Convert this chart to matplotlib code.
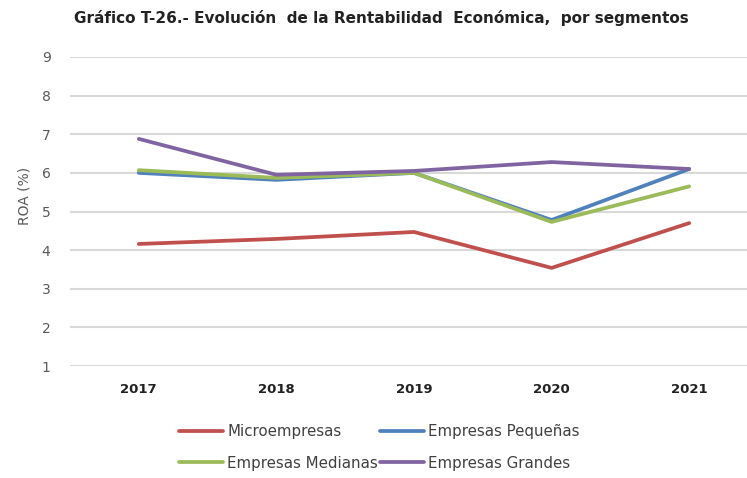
import matplotlib.pyplot as plt
import numpy as np

# Data
years = ['2017', '2018', '2019', '2020', '2021']
micro = [4.16, 4.29, 4.47, 3.54, 4.70]
pequenas = [6.00, 5.82, 6.00, 4.78, 6.10]
medianas = [6.07, 5.87, 6.00, 4.73, 5.65]
grandes = [6.88, 5.95, 6.05, 6.28, 6.10]

series = [
    ('Microempresas', micro, '#C0504D'),
    ('Empresas Pequeñas', pequenas, '#4F81BD'),
    ('Empresas Medianas', medianas, '#9BBB59'),
    ('Empresas Grandes', grandes, '#8064A2'),
]

fig = plt.figure(figsize=(7.47, 4.78), dpi=100)
ax = fig.add_axes([70 / 747, 1 - 366 / 478, 677 / 747, (366 - 57) / 478])

x = np.arange(len(years))
lines = []
for name, vals, color in series:
    ln, = ax.plot(x, vals, color=color, linewidth=2.7, label=name,
                  solid_capstyle='round', clip_on=False, zorder=3)
    lines.append(ln)

ax.set_ylim(1, 9)
ax.set_yticks(range(1, 10))
ax.set_xlim(-0.5, 4.42)
ax.set_xticks(x)
ax.set_xticklabels(years, fontweight='bold', fontsize=9.5, color='#222222')
ax.tick_params(axis='x', length=0, pad=12)
ax.tick_params(axis='y', length=0, pad=14, labelsize=10, labelcolor='#595959')
ax.grid(axis='y', color='#D9D9D9', linewidth=1.5)
ax.set_axisbelow(True)
for s in ax.spines.values():
    s.set_visible(False)

ax.set_ylabel('ROA (%)', fontsize=10, color='#595959')
ax.yaxis.set_label_coords(-0.057, 0.55)

fig.text(0.511, 0.962, 'Gráfico T-26.- Evolución  de la Rentabilidad  Económica,  por segmentos',
         ha='center', va='center', fontsize=11, fontweight='bold', color='#222222')

# legend is filled column by column, so reorder to read row by row
order = [0, 2, 1, 3]
fig.legend([lines[i] for i in order], [series[i][0] for i in order],
           loc='center', bbox_to_anchor=(0.508, 0.064), ncol=2, frameon=False,
           fontsize=10.8, handlelength=2.9, handletextpad=0.3, columnspacing=0.15,
           labelspacing=1.1, labelcolor='#404040')

fig.savefig('out.png', dpi=100)
